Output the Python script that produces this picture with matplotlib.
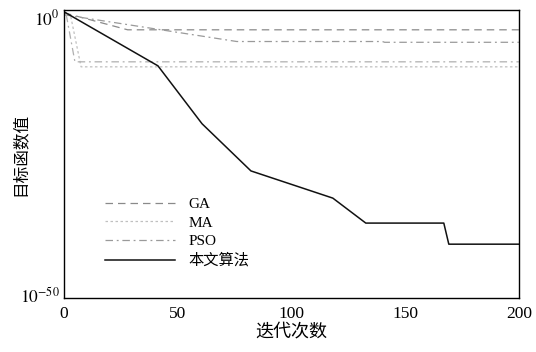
import numpy as np
import matplotlib
matplotlib.use("Agg")
from matplotlib import pyplot as plt

plt.rcParams['font.family'] = ['Liberation Serif', 'Noto Sans CJK SC']
plt.rcParams['mathtext.fontset'] = 'stix'

# iterations and log10 of objective value
ga_x = [0, 28, 200]
ga_log = [0.9, -2.17, -2.17]

ma_x = [3, 7.5, 200]
ma_log = [0.18, -8.84, -8.84]

pso_x = [0, 76, 140, 141, 200]
pso_log = [0.54, -4.28, -4.28, -4.42, -4.42]

extra_x = [1, 4.8, 200]
extra_log = [0.54, -7.94, -7.94]

ours_x = [0, 41.3, 60.7, 82.2, 118.2, 132.7, 167, 169.2, 200]
ours_log = [1.08, -8.66, -19.1, -27.6, -32.5, -37.0, -37.0, -40.8, -40.8]

labels = ['GA', 'MA', 'PSO', '本文算法']

fig = plt.figure(figsize=(5.36, 3.52), dpi=100)
ax = fig.add_axes([0.1194, 0.1534, 0.8486, 0.8182])

p = lambda v: 10.0 ** np.array(v)
ax.semilogy(ga_x, p(ga_log), color='#8a8a8a', lw=0.9, ls=(0, (6, 4)), label=labels[0])
ax.semilogy(ma_x, p(ma_log), color='#c0c0c0', lw=0.9, ls=(0, (2, 2)), label=labels[1])
ax.semilogy(pso_x, p(pso_log), color='#9a9a9a', lw=0.9, ls=(0, (6, 3, 1.5, 3)), label=labels[2])
ax.semilogy(extra_x, p(extra_log), color='#b0b0b0', lw=0.9, ls=(0, (6, 3, 1.5, 3)))
ax.semilogy(ours_x, p(ours_log), color='#111111', lw=1.1, label=labels[3])

ax.set_xlim(0, 200)
ax.set_ylim(10 ** -50.5, 10 ** 1.4)
ax.set_xticks([0, 50, 100, 150, 200])
ax.set_yticks([1e-50, 1e0])
ax.set_yticklabels([r'$10^{-50}$', r'$10^{0}$'])
ax.minorticks_off()
ax.tick_params(length=0, labelsize=12.5, pad=6)
ax.tick_params(axis='y', pad=3)
for s in ax.spines.values():
    s.set_linewidth(1.0)

ax.set_xlabel('迭代次数', fontsize=13, labelpad=1)
ax.set_ylabel('目标函数值', fontsize=12)
ax.yaxis.set_label_coords(-0.078, 0.5)

ax.legend(loc='upper left', bbox_to_anchor=(0.09, 0.35), frameon=False,
          fontsize=11, handlelength=4.6, handletextpad=0.85, labelspacing=0.33,
          borderpad=0, borderaxespad=0)

fig.savefig('out.png', dpi=100)
